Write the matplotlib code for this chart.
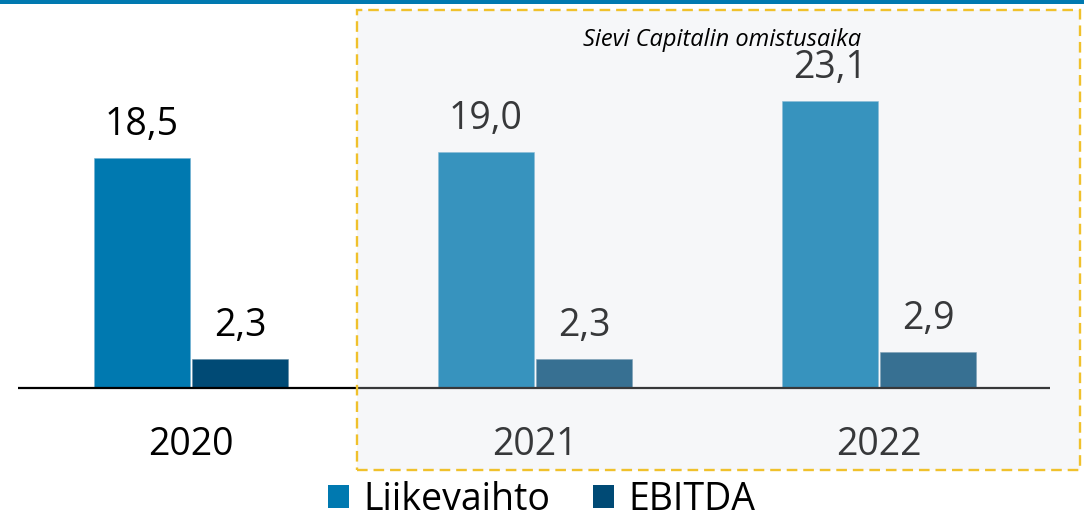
import numpy as np
import matplotlib
matplotlib.use('Agg')
import matplotlib.pyplot as plt
from matplotlib.patches import Rectangle, Patch

plt.rcParams['font.family'] = ['Open Sans', 'DejaVu Sans']

vuodet = ['2020', '2021', '2022']
liikevaihto = [18.5, 19.0, 23.1]
ebitda = [2.3, 2.3, 2.9]
sarjat = ['Liikevaihto', 'EBITDA']
huomautus = 'Sievi Capitalin omistusaika'

lv_color = '#0079B0'
eb_color = '#004A75'
box_color = '#F0C12C'
W, H = 1084, 518

fig = plt.figure(figsize=(W / 100, H / 100), dpi=100)
ax = fig.add_axes([0, 0, 1, 1])
ax.set_axis_off()

# pikselit -> data: ryhmien väli 344 px, 12.43 px / yksikkö
px_x = 344.0
px_y = 12.43
ax.set_xlim(-191 / px_x, (W - 191) / px_x)
ax.set_ylim(-130 / px_y, (H - 130) / px_y)

x = np.arange(len(vuodet))
bw = 96 / px_x
off = 49 / px_x
ax.bar(x - off, liikevaihto, bw, color=lv_color, edgecolor='#6fb0d0', linewidth=0.4, zorder=2)
ax.bar(x + off, ebitda, bw, color=eb_color, edgecolor='#5f8aa5', linewidth=0.4, zorder=2)

ax.plot([-173 / px_x, 859 / px_x], [0, 0], color='black', lw=1.6, zorder=3, solid_capstyle='butt')

for i in range(len(vuodet)):
    for xx, v in [(x[i] - off, liikevaihto[i]), (x[i] + off, ebitda[i])]:
        ax.annotate(f'{v:.1f}'.replace('.', ','), (xx, v), xytext=(0, 16.5),
                    textcoords='offset points', ha='center', va='baseline',
                    fontsize=27, color='black', zorder=3)
    ax.text(x[i], -67 / px_y, vuodet[i], ha='center', va='baseline',
            fontsize=27, color='black', zorder=3)

# omistusaika-laatikko
bx0, by0 = 357 / W, (H - 470) / H
bw_, bh_ = (1080 - 357) / W, (470 - 10) / H
ax.add_patch(Rectangle((bx0, by0), bw_, bh_, transform=ax.transAxes,
                       facecolor='#DCE2EA', alpha=0.25, edgecolor='none', zorder=5))
ax.add_patch(Rectangle((bx0, by0), bw_, bh_, transform=ax.transAxes,
                       facecolor='none', edgecolor=box_color, lw=1.7,
                       linestyle=(0, (4.5, 2.5)), zorder=6))
ax.text(722 / W, (H - 46) / H, huomautus, transform=ax.transAxes, ha='center',
        va='baseline', fontsize=17, style='italic', color='black', zorder=7)

# sininen viiva ylhäällä
fig.add_artist(Rectangle((0, 1 - 4 / H), 1, 4 / H, transform=fig.transFigure,
                         facecolor=lv_color, edgecolor='none'))

handles = [Patch(facecolor=lv_color, edgecolor='none'),
           Patch(facecolor=eb_color, edgecolor='none')]
fig.legend(handles, sarjat, loc='center', bbox_to_anchor=(541.5 / W, 18 / H),
           ncol=2, frameon=False, fontsize=27, handlelength=0.56, handleheight=0.56,
           handletextpad=0.37, columnspacing=1.15, borderpad=0, borderaxespad=0)

fig.savefig('out.png', dpi=100)
